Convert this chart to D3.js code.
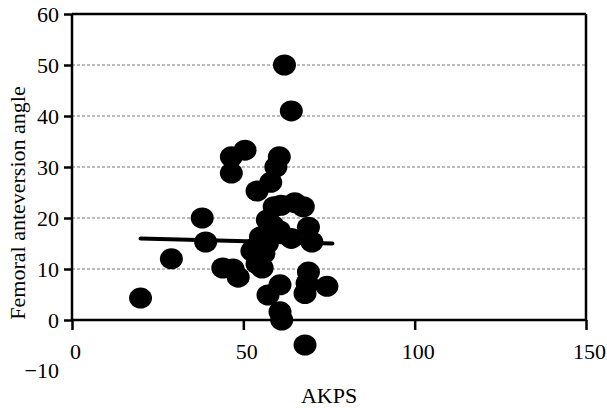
<!DOCTYPE html>
<html>
<head>
<meta charset="utf-8">
<script src="https://cdn.jsdelivr.net/npm/d3@7"></script>
<style>
  body { margin: 0; background: #fff; }
  svg text { font-family: "Times New Roman", "Liberation Serif", Times, serif; }
</style>
</head>
<body>
<div id="chart"></div>
<script>
// AKPS score vs femoral anteversion angle
const akps = [20, 29, 38, 39, 44, 47, 48.5, 46.5, 50.5, 46.5, 54, 58, 59.5, 60.5, 62, 64,
              59, 61, 65, 67.5, 57, 58.5, 60.5, 64, 69, 70, 53, 55, 56, 55.5, 54,
              60.7, 57.2, 69, 68.6, 74.4, 68, 60.7, 61.2, 68, 52.5, 57];
const angle = [4.3, 12, 20, 15.3, 10.2, 10, 8.4, 32, 33.3, 28.8, 25.3, 27, 30, 32, 50, 41,
               22.2, 22.5, 23, 22.2, 19.6, 18.6, 17.5, 16, 18.2, 15.3, 14, 16.3, 13, 10.2, 11,
               6.9, 4.9, 9.4, 7.2, 6.6, 5.2, 1.6, 0, -4.9, 13.5, 15];
const fitX = [20, 76];
const fitY = [16, 15];
const xTicks = [0, 50, 100, 150];
const yTicks = [0, 10, 20, 30, 40, 50, 60];
const gridTicks = [10, 20, 30, 40, 50];

const width = 607, height = 408;
const fontSize = 22;
const x = d3.scaleLinear().domain([0, 150]).range([72, 586]);
const y = d3.scaleLinear().domain([-10, 60]).range([371, 14]);

const svg = d3.select("#chart").append("svg")
    .attr("width", width)
    .attr("height", height);

// grid
svg.append("g")
  .selectAll("line")
  .data(gridTicks)
  .join("line")
    .attr("x1", x(0)).attr("x2", x(150))
    .attr("y1", d => y(d)).attr("y2", d => y(d))
    .attr("stroke", "#777")
    .attr("stroke-width", 1)
    .attr("stroke-dasharray", "3,2");

// frame: top and right
svg.append("line")
    .attr("x1", x(0)).attr("x2", x(150))
    .attr("y1", y(60)).attr("y2", y(60))
    .attr("stroke", "#000").attr("stroke-width", 2.5);
svg.append("line")
    .attr("x1", x(150)).attr("x2", x(150))
    .attr("y1", y(60)).attr("y2", y(0))
    .attr("stroke", "#000").attr("stroke-width", 2.5);

// y axis
const yAxis = svg.append("g")
    .attr("transform", `translate(${x(0)},0)`)
    .call(d3.axisLeft(y).tickValues(yTicks).tickSize(8).tickPadding(5).tickFormat(d3.format("d")));
yAxis.attr("font-family", null).attr("font-size", null);
yAxis.select(".domain").attr("d", `M0,${y(60)}V${y(0)}`).attr("stroke-width", 2.5);
yAxis.selectAll(".tick line").attr("stroke-width", 2.5);
yAxis.selectAll(".tick text").style("font-size", fontSize + "px").attr("fill", "#000");

// the -10 label without a tick
svg.append("text")
    .attr("x", x(0) - 13)
    .attr("y", y(-10))
    .attr("dy", "0.32em")
    .attr("text-anchor", "end")
    .style("font-size", fontSize + "px")
    .text("\u221210");

// x axis at y = 0
const xAxis = svg.append("g")
    .attr("transform", `translate(0,${y(0)})`)
    .call(d3.axisBottom(x).tickValues(xTicks).tickSize(10).tickPadding(13).tickFormat(d3.format("d")));
xAxis.attr("font-family", null).attr("font-size", null);
xAxis.select(".domain").attr("d", `M${x(0)},0H${x(150)}`).attr("stroke-width", 2.5);
xAxis.selectAll(".tick line").attr("stroke-width", 2.5);
xAxis.selectAll(".tick text").style("font-size", fontSize + "px").attr("fill", "#000").attr("dx", 3);

// points
svg.append("g")
  .selectAll("ellipse")
  .data(akps)
  .join("ellipse")
    .attr("cx", d => x(d))
    .attr("cy", (d, i) => y(angle[i]))
    .attr("rx", 11.5)
    .attr("ry", 10.5)
    .attr("fill", "#000");

// fit line
svg.append("line")
    .attr("x1", x(fitX[0])).attr("y1", y(fitY[0]))
    .attr("x2", x(fitX[1])).attr("y2", y(fitY[1]))
    .attr("stroke", "#000")
    .attr("stroke-width", 4)
    .attr("stroke-linecap", "round");

// axis titles
svg.append("text")
    .attr("x", (x(0) + x(150)) / 2)
    .attr("y", 403)
    .attr("text-anchor", "middle")
    .style("font-size", fontSize + "px")
    .text("AKPS");

svg.append("text")
    .attr("transform", `translate(25,203) rotate(-90)`)
    .attr("text-anchor", "middle")
    .style("font-size", fontSize + "px")
    .text("Femoral anteversion angle");
</script>
</body>
</html>
